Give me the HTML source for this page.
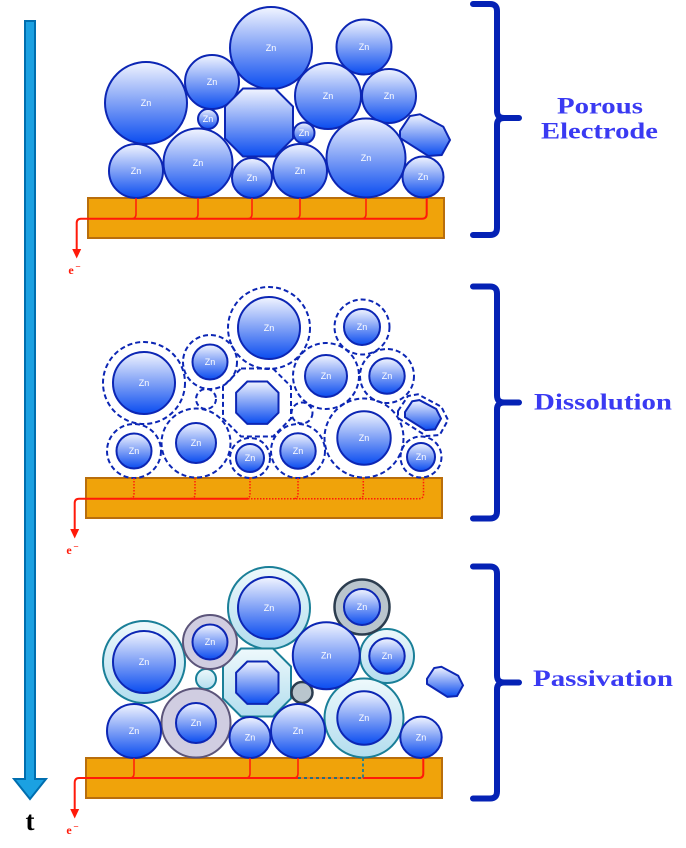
<!DOCTYPE html>
<html>
<head>
<meta charset="utf-8">
<style>
  html,body{margin:0;padding:0;background:#ffffff;}
  svg{display:block;}
  .zn{font-family:"Liberation Sans",sans-serif;font-size:9px;fill:#ffffff;text-anchor:middle;}
  .lbl{font-family:"Liberation Serif",serif;font-weight:bold;font-size:23px;fill:#3a3af2;}
</style>
</head>
<body>
<svg width="686" height="848" viewBox="0 0 686 848" xmlns="http://www.w3.org/2000/svg">
  <defs>
    <linearGradient id="gz" x1="0" y1="0" x2="0" y2="1">
      <stop offset="0" stop-color="#f2f5ff"/>
      <stop offset="0.5" stop-color="#7fa0f6"/>
      <stop offset="1" stop-color="#0a4cf0"/>
    </linearGradient>
    <linearGradient id="gc" x1="0" y1="0" x2="0" y2="1">
      <stop offset="0" stop-color="#eef9fc"/>
      <stop offset="1" stop-color="#b2ddee"/>
    </linearGradient>
  </defs>

  <!-- time arrow -->
  <path d="M25 21 H35 V779 H46 L30 799 L14 779 H25 Z" fill="#1ba1e2" stroke="#006eaf" stroke-width="2" stroke-linejoin="miter"/>
  <text x="30" y="830" font-family="Liberation Serif, serif" font-weight="bold" font-size="27" text-anchor="middle" fill="#000">t</text>

  <!-- braces -->
  <g fill="none" stroke="#0522b5" stroke-width="6" stroke-linecap="round" stroke-linejoin="round">
    <path d="M473 4 H490 Q497 4 497 11 V111 Q497 118 504 118 H519 M504 118 Q497 118 497 125 V228 Q497 235 490 235 H473"/>
    <path d="M473 286.5 H490 Q497 286.5 497 293.5 V395.5 Q497 402.5 504 402.5 H519 M504 402.5 Q497 402.5 497 409.5 V511.5 Q497 518.5 490 518.5 H473"/>
    <path d="M473 566.5 H490 Q497 566.5 497 573.5 V675.5 Q497 682.5 504 682.5 H519 M504 682.5 Q497 682.5 497 689.5 V791.5 Q497 798.5 490 798.5 H473"/>
  </g>
  <text class="lbl" x="557" y="113.3" textLength="86" lengthAdjust="spacingAndGlyphs">Porous</text>
  <text class="lbl" x="541" y="138.3" textLength="117" lengthAdjust="spacingAndGlyphs">Electrode</text>
  <text class="lbl" x="534" y="409.3" textLength="138" lengthAdjust="spacingAndGlyphs">Dissolution</text>
  <text class="lbl" x="533" y="686" textLength="140" lengthAdjust="spacingAndGlyphs">Passivation</text>

  <!-- ================= TOP PANEL ================= -->
  <g>
    <rect x="88" y="198" width="356" height="40" fill="#f0a30a" stroke="#b96e0c" stroke-width="2"/>
    <g fill="url(#gz)" stroke="#0c26b4" stroke-width="2">
      <circle cx="146" cy="103" r="41"/>
      <circle cx="212" cy="82" r="27"/>
      <circle cx="208" cy="119" r="10"/>
      <circle cx="271" cy="48" r="41"/>
      <circle cx="364" cy="47" r="27.5"/>
      <circle cx="328" cy="96" r="33"/>
      <circle cx="389" cy="96" r="27"/>
      <polygon points="243,88.5 275,88.5 293,106.5 293,138.5 275,156.5 243,156.5 225,138.5 225,106.5"/>
      <circle cx="304" cy="133" r="10.5"/>
      <polygon points="400,131 410,116 420,114.3 443.3,126.7 450,140 441.7,155 428.3,156 400,138"/>
      <circle cx="136" cy="171" r="27"/>
      <circle cx="198" cy="163" r="34.5"/>
      <circle cx="252" cy="178" r="20"/>
      <circle cx="300" cy="171" r="27"/>
      <circle cx="366" cy="158" r="39.5"/>
      <circle cx="423" cy="177" r="20.5"/>
    </g>
    <g class="zn">
      <text x="146" y="106">Zn</text>
      <text x="212" y="85">Zn</text>
      <text x="208" y="122">Zn</text>
      <text x="271" y="51">Zn</text>
      <text x="364" y="50">Zn</text>
      <text x="328" y="99">Zn</text>
      <text x="389" y="99">Zn</text>
      <text x="304" y="136">Zn</text>
      <text x="136" y="174">Zn</text>
      <text x="198" y="166">Zn</text>
      <text x="252" y="181">Zn</text>
      <text x="300" y="174">Zn</text>
      <text x="366" y="161">Zn</text>
      <text x="423" y="180">Zn</text>
    </g>
    <g fill="none" stroke="#ff1a0a" stroke-linecap="butt">
      <path d="M76.7 251 V223 Q76.7 218.7 81 218.7 H422 Q426.7 218.7 426.7 214 V198" stroke-width="2"/>
      <path d="M136 198 V214 Q136 218.7 131.5 218.7 M198 198 V214 Q198 218.7 193.5 218.7 M252 198 V214 Q252 218.7 247.5 218.7 M300 198 V214 Q300 218.7 295.5 218.7 M366 198 V214 Q366 218.7 361.5 218.7" stroke-width="1.5"/>
    </g>
    <polygon points="72.2,249 81.2,249 76.7,258.5" fill="#ff1a0a"/>
    <text x="71" y="274" font-family="Liberation Serif, serif" font-weight="bold" font-size="12" fill="#ff1a0a" text-anchor="middle">e</text>
    <text x="78" y="269.5" font-family="Liberation Sans, sans-serif" font-size="9" fill="#ff1a0a" text-anchor="middle">−</text>
  </g>

  <!-- ================= MIDDLE PANEL ================= -->
  <g transform="translate(-2,280)">
    <rect x="88" y="198" width="356" height="40" fill="#f0a30a" stroke="#b96e0c" stroke-width="2"/>
    <g fill="none" stroke="#0c26b4" stroke-width="2" stroke-dasharray="5 3">
      <circle cx="146" cy="103" r="41"/>
      <circle cx="212" cy="82" r="27"/>
      <circle cx="208" cy="119" r="10"/>
      <circle cx="271" cy="48" r="41"/>
      <circle cx="364" cy="47" r="27.5"/>
      <circle cx="328" cy="96" r="33"/>
      <circle cx="389" cy="96" r="27"/>
      <polygon points="243,88.5 275,88.5 293,106.5 293,138.5 275,156.5 243,156.5 225,138.5 225,106.5"/>
      <circle cx="304" cy="133" r="10.5"/>
      <polygon points="400,131 410,116 420,114.3 443.3,126.7 450,140 441.7,155 428.3,156 400,138"/>
      <circle cx="136" cy="171" r="27"/>
      <circle cx="198" cy="163" r="34.5"/>
      <circle cx="252" cy="178" r="20"/>
      <circle cx="300" cy="171" r="27"/>
      <circle cx="366" cy="158" r="39.5"/>
      <circle cx="423" cy="177" r="20.5"/>
    </g>
    <g fill="url(#gz)" stroke="#0c26b4" stroke-width="2">
      <circle cx="146" cy="103" r="31"/>
      <circle cx="212" cy="82" r="17.5"/>
      <circle cx="271" cy="48" r="31"/>
      <circle cx="364" cy="47" r="18"/>
      <circle cx="328" cy="96" r="21"/>
      <circle cx="389" cy="96" r="17.7"/>
      <polygon points="249.3,101.5 269.3,101.5 280.5,112.7 280.5,132.7 269.3,143.9 249.3,143.9 238.1,132.7 238.1,112.7"/>
      <polygon points="407,132.1 414.2,121.3 421.4,120.1 438.2,129 443,138.6 437,149.4 427.4,150.1 407,137.2"/>
      <circle cx="136" cy="171" r="17.5"/>
      <circle cx="198" cy="163" r="20"/>
      <circle cx="252" cy="178" r="14"/>
      <circle cx="300" cy="171" r="17.7"/>
      <circle cx="366" cy="158" r="26.7"/>
      <circle cx="423" cy="177" r="14"/>
    </g>
    <g class="zn">
      <text x="146" y="106">Zn</text>
      <text x="212" y="85">Zn</text>
      <text x="271" y="51">Zn</text>
      <text x="364" y="50">Zn</text>
      <text x="328" y="99">Zn</text>
      <text x="389" y="99">Zn</text>
      <text x="136" y="174">Zn</text>
      <text x="198" y="166">Zn</text>
      <text x="252" y="181">Zn</text>
      <text x="300" y="174">Zn</text>
      <text x="366" y="161">Zn</text>
      <text x="423" y="180">Zn</text>
    </g>
    <g fill="none" stroke="#ff1a0a">
      <path d="M76.7 251 V223 Q76.7 218.7 81 218.7 H250" stroke-width="2"/>
      <path d="M250 218.7 H421 Q425.5 218.7 425.5 214 V198" stroke-width="1.5" stroke-dasharray="1.5 1.5"/>
      <path d="M136 198 V214 Q136 218.7 131.5 218.7 M197 198 V214 Q197 218.7 192.5 218.7 M252 198 V214 Q252 218.7 247.5 218.7 M300 198 V214 Q300 218.7 295.5 218.7 M365.3 198 V214 Q365.3 218.7 360.8 218.7" stroke-width="1.5" stroke-dasharray="1.5 1.5"/>
    </g>
    <polygon points="72.2,249 81.2,249 76.7,258.5" fill="#ff1a0a"/>
    <text x="71" y="274" font-family="Liberation Serif, serif" font-weight="bold" font-size="12" fill="#ff1a0a" text-anchor="middle">e</text>
    <text x="78" y="269.5" font-family="Liberation Sans, sans-serif" font-size="9" fill="#ff1a0a" text-anchor="middle">−</text>
  </g>

  <!-- ================= BOTTOM PANEL ================= -->
  <g transform="translate(-2,560)">
    <rect x="88" y="198" width="356" height="40" fill="#f0a30a" stroke="#b96e0c" stroke-width="2"/>
    <!-- shells -->
    <g fill="url(#gc)" stroke="#1a7f98" stroke-width="2">
      <circle cx="146" cy="102" r="41"/>
      <circle cx="271" cy="48" r="41"/>
      <circle cx="389" cy="96" r="27"/>
      <circle cx="208" cy="119" r="10"/>
      <polygon points="243,88.5 275,88.5 293,106.5 293,138.5 275,156.5 243,156.5 225,138.5 225,106.5"/>
      <circle cx="366" cy="158" r="39.5"/>
    </g>
    <g fill="#d0cde1" stroke="#5c557a" stroke-width="2">
      <circle cx="212" cy="82" r="27"/>
      <circle cx="198" cy="163" r="34.5"/>
    </g>
    <g fill="#b9c5cd" stroke="#2c3d4f" stroke-width="2.5">
      <circle cx="364" cy="47" r="27.5"/>
      <circle cx="304" cy="132.5" r="10.5"/>
    </g>
    <g fill="url(#gz)" stroke="#0c26b4" stroke-width="2">
      <circle cx="146" cy="102" r="31"/>
      <circle cx="212" cy="82" r="17.5"/>
      <circle cx="271" cy="48" r="31"/>
      <circle cx="364" cy="47" r="18"/>
      <circle cx="328.3" cy="95.7" r="33.5"/>
      <circle cx="389" cy="96" r="17.7"/>
      <polygon points="249.3,101.5 269.3,101.5 280.5,112.7 280.5,132.7 269.3,143.9 249.3,143.9 238.1,132.7 238.1,112.7"/>
      <polygon points="429,118.8 436.2,108 443.4,106.8 460.2,115.7 465,125.3 459,136.1 449.4,136.8 429,123.9"/>
      <circle cx="136" cy="171" r="27"/>
      <circle cx="198" cy="163" r="20"/>
      <circle cx="252" cy="177.5" r="20.5"/>
      <circle cx="300" cy="171" r="27"/>
      <circle cx="366" cy="158" r="26.7"/>
      <circle cx="423" cy="177.3" r="20.7"/>
    </g>
    <g class="zn">
      <text x="146" y="105">Zn</text>
      <text x="212" y="85">Zn</text>
      <text x="271" y="51">Zn</text>
      <text x="364" y="50">Zn</text>
      <text x="328.3" y="98.7">Zn</text>
      <text x="389" y="99">Zn</text>
      <text x="136" y="174">Zn</text>
      <text x="198" y="166">Zn</text>
      <text x="252" y="180.5">Zn</text>
      <text x="300" y="174">Zn</text>
      <text x="366" y="161">Zn</text>
      <text x="423" y="180.3">Zn</text>
    </g>
    <g fill="none">
      <path d="M76.7 251 V223 Q76.7 218 81 218 H300" stroke="#ff1a0a" stroke-width="2"/>
      <path d="M300 218 H365" stroke="#ff1a0a" stroke-width="1" opacity="0.6"/>
      <path d="M300 218 H365" stroke="#2a6f7c" stroke-width="2" stroke-dasharray="3 3"/>
      <path d="M365 218 H421 Q425.3 218 425.3 213.5 V198" stroke="#ff1a0a" stroke-width="2"/>
      <path d="M136 198 V213.5 Q136 218 131.5 218 M252 198 V213.5 Q252 218 247.5 218 M300 198 V213.5 Q300 218 295.5 218" stroke="#ff1a0a" stroke-width="1.5"/>
      <path d="M365 198 V218" stroke="#1a7f98" stroke-width="1.8" stroke-dasharray="3 2.5"/>
    </g>
    <polygon points="72.2,249 81.2,249 76.7,258.5" fill="#ff1a0a"/>
    <text x="71" y="274" font-family="Liberation Serif, serif" font-weight="bold" font-size="12" fill="#ff1a0a" text-anchor="middle">e</text>
    <text x="78" y="269.5" font-family="Liberation Sans, sans-serif" font-size="9" fill="#ff1a0a" text-anchor="middle">−</text>
  </g>
</svg>
</body>
</html>
